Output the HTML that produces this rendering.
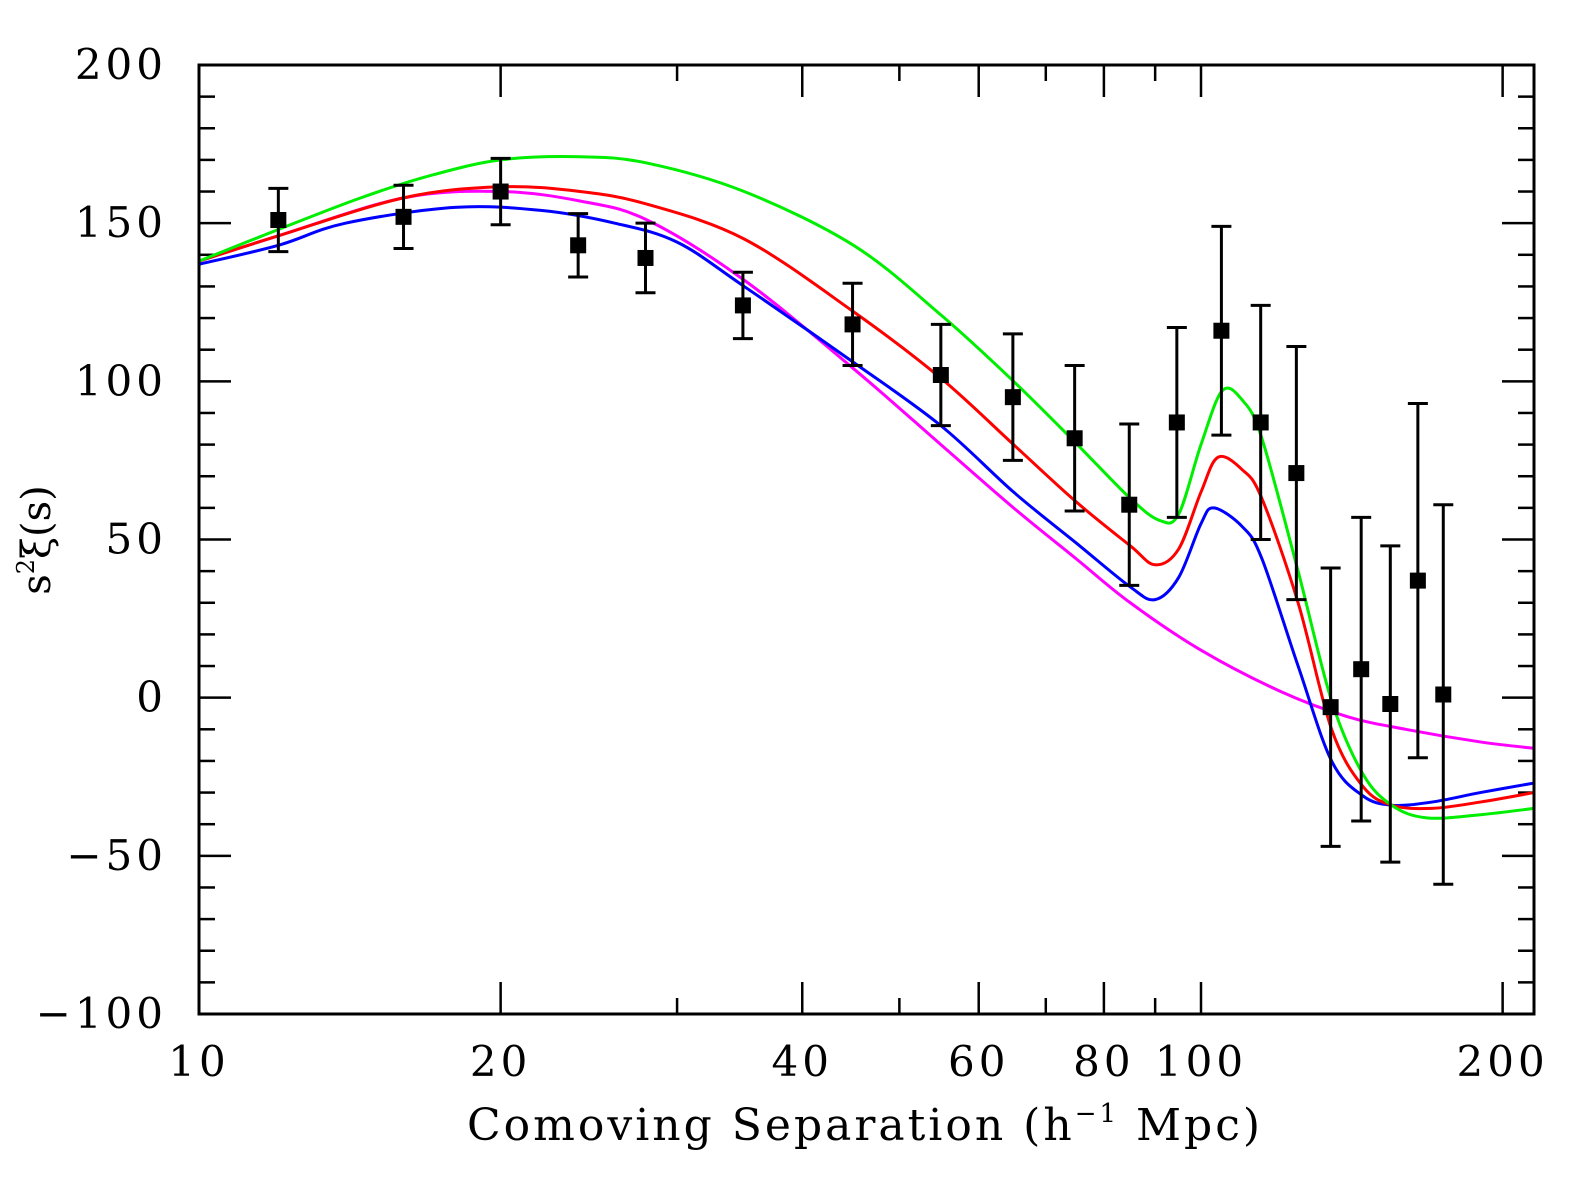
<!DOCTYPE html>
<html><head><meta charset="utf-8"><style>
body{margin:0;background:#fff}
svg text{font-family:"DejaVu Serif","Liberation Serif",serif;fill:#000}
</style></head><body>
<svg width="1594" height="1183" xmlns="http://www.w3.org/2000/svg">
<g id="g"></g>
</svg>
<script>
const ptS=[12,16,20,23.9,27.9,34.9,44.9,55,64.9,74.8,84.8,94.6,104.8,114.7,124.5,134.7,144.5,154.5,164.6,174.5];
const ptY=[151,152,160,143,139,124,118,102,95,82,61,87,116,87,71,-3,9,-2,37,1];
const ptE=[10,10,10.5,10,11,10.5,13,16,20,23,25.5,30,33,37,40,44,48,50,56,60];
const greenS=[10,12,14.5,17,20,24,28,35,45,55,65,75,85,91,95,100,105,110,115,125,135,145,155,168,190,215];
const greenY=[138,148,158,165,170,171,169,160,143,121,100,80.5,63,56,58,80,97,94,82,40,-1,-24,-34,-38,-37,-35];
const redS=[10,12,16,20,24,28,35,45,55,65,75,85,90,95,100,104,110,115,125,135,145,155,170,190,215];
const redY=[138,146,158,161.5,160,156,145,122,101,80,62,48,42,47,65,76,72,63,30,-10,-28,-34,-35,-33,-30];
const blueS=[10,12,14,18,22,26,30,35,45,55,65,75,85,90,95,100,103,110,115,125,135,145,155,170,190,215];
const blueY=[137,143,150,155,154,150,144,130,106,86,65,49,35,31,38,55,60,54,44,10,-20,-31,-34,-33,-30,-27];
const magS=[10,12,16,20,24,28,35,45,55,65,75,85,100,120,140,160,190,215];
const magY=[138,146,158,160,157,151,132,104,80,60,44,30,15,2,-6,-10,-14,-16];
const yTicks=[-100,-50,0,50,100,150,200];
const xTicks=[10,20,40,60,80,100,200];
const xMinor=[30,50,70,90];

const L=199,R=1534,T=65,B=1014,dec=1002;
const X=s=>L+Math.log10(s/10)*dec;
const Y=v=>B-(v+100)*(B-T)/300;
const g=document.getElementById('g');
const NS='http://www.w3.org/2000/svg';
function mk(t,a){const e=document.createElementNS(NS,t);for(const k in a)e.setAttribute(k,a[k]);g.appendChild(e);return e;}
function pathD(xs,ys){
  const p=xs.map((s,i)=>[Math.min(R,X(s)),Y(ys[i])]);let d='M'+p[0][0]+','+p[0][1];
  for(let i=0;i<p.length-1;i++){const p0=p[Math.max(0,i-1)],p1=p[i],p2=p[i+1],p3=p[Math.min(p.length-1,i+2)];
    d+=' C'+(p1[0]+(p2[0]-p0[0])/6)+','+(p1[1]+(p2[1]-p0[1])/6)+' '+(p2[0]-(p3[0]-p1[0])/6)+','+(p2[1]-(p3[1]-p1[1])/6)+' '+p2[0]+','+p2[1];}
  return d;}
for(let v=-100;v<=200;v+=10){const maj=v%50===0,len=maj?32:16;
  let e=mk('line',{x1:L,x2:L+len,y1:Y(v),y2:Y(v),stroke:'#000','stroke-width':2.5});
  
  e=mk('line',{x1:R,x2:R-len,y1:Y(v),y2:Y(v),stroke:'#000','stroke-width':2.5});
  }
yTicks.forEach(v=>{const t=mk('text',{x:167,y:Y(v)+14,'text-anchor':'end','font-size':42,'letter-spacing':4});t.textContent=(v<0?'\u2212':'')+Math.abs(v);
  });
xTicks.concat(xMinor).forEach(s=>{const len=xMinor.includes(s)?16:32;
  let e=mk('line',{x1:X(s),x2:X(s),y1:B,y2:B-len,stroke:'#000','stroke-width':2.5});
  
  e=mk('line',{x1:X(s),x2:X(s),y1:T,y2:T+len,stroke:'#000','stroke-width':2.5});
  });
xTicks.forEach(s=>{const t=mk('text',{x:X(s),y:1076,'text-anchor':'middle','font-size':42,'letter-spacing':4});t.textContent=s;
  });
[[magS,magY,'#ff00ff','model-magenta'],[blueS,blueY,'#0000ff','model-blue'],[redS,redY,'#ff0000','model-red'],[greenS,greenY,'#00ee00','model-green']].forEach(c=>{
  const e=mk('path',{d:pathD(c[0],c[1]),fill:'none',stroke:c[2],'stroke-width':3});
  });
ptS.forEach((s,i)=>{const x=X(s),y=Y(ptY[i]),yt=Y(ptY[i]+ptE[i]),yb=Y(ptY[i]-ptE[i]);
  let e=mk('path',{d:`M${x},${yt}V${yb}M${x-10},${yt}H${x+10}M${x-10},${yb}H${x+10}`,stroke:'#000','stroke-width':3,fill:'none'});
  
  e=mk('rect',{x:x-8,y:y-8,width:16,height:16,fill:'#000'});
  });
const fr=mk('rect',{x:L,y:T,width:R-L,height:B-T,fill:'none',stroke:'#000','stroke-width':3});

let t=mk('text',{x:865,y:1140,'text-anchor':'middle','font-size':44,'letter-spacing':3});
t.innerHTML='Comoving Separation (h<tspan font-size="26" dy="-18">\u22121</tspan><tspan dy="18"> Mpc)</tspan>';

t=mk('text',{x:0,y:0,'text-anchor':'middle','font-size':40,transform:'translate(50,540) rotate(-90)'});
t.innerHTML='s<tspan font-size="24" dy="-16">2</tspan><tspan dy="16">\u03be(s)</tspan>';

</script>
</body></html>
